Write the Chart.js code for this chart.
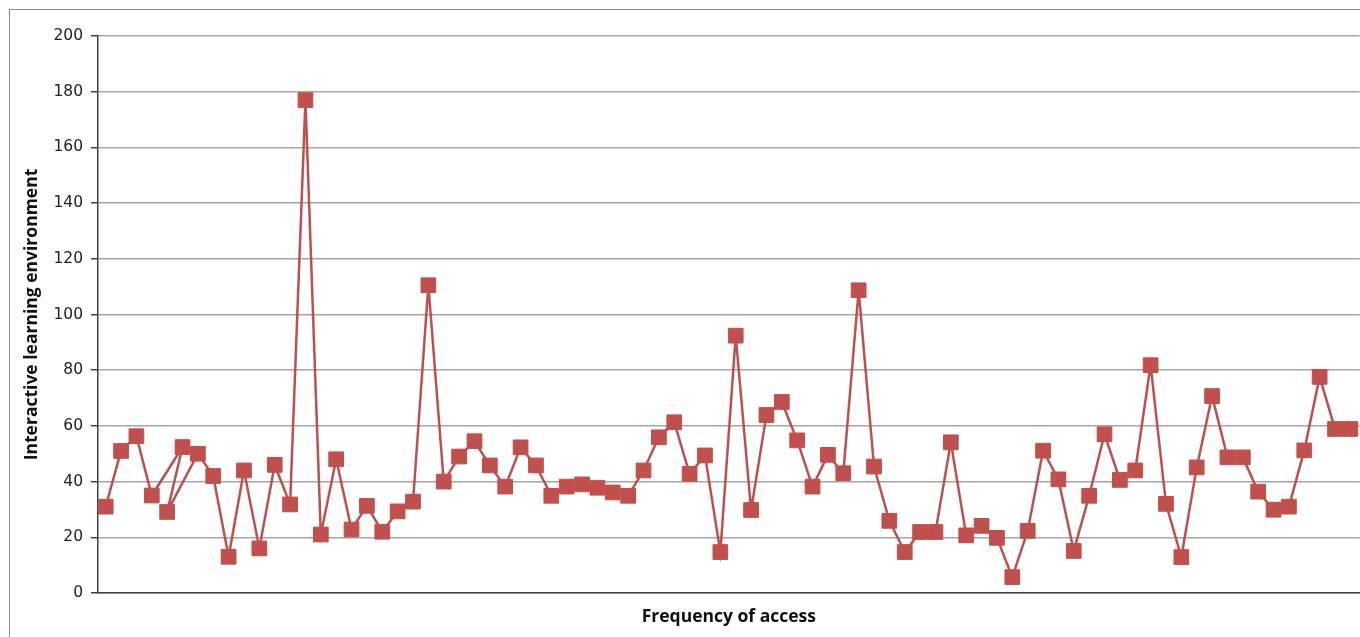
<!DOCTYPE html>
<html>
<head>
<meta charset="utf-8">
<script src="https://cdn.jsdelivr.net/npm/chart.js@4.4.1/dist/chart.umd.min.js"></script>
<style>
  html, body { margin: 0; padding: 0; background: #ffffff; overflow: hidden; }
  #frame { position: absolute; left: 9px; top: 9px; width: 1420px; height: 700px; border: 1px solid #8c8c8c; box-sizing: border-box; }
  #wrap { position: absolute; left: 0; top: 0; width: 1360px; height: 637px; overflow: hidden; }
</style>
</head>
<body>
<div id="frame"></div>
<div id="wrap"><canvas id="c" width="1371" height="637" style="width:1371px;height:637px"></canvas></div>
<script>
// Frequency of access (x) — points are joined in data order
const xValues = [1, 2, 3, 4, 6, 5, 7, 8, 9, 10, 11, 12, 13, 14, 15, 16, 17, 18, 19, 20,
  21, 22, 23, 24, 25, 26, 27, 28, 29, 30, 31, 32, 33, 34, 35, 36, 37, 38, 39, 40,
  41, 42, 43, 44, 45, 46, 47, 48, 49, 50, 51, 52, 53, 54, 55, 56, 57, 58, 59, 60,
  61, 62, 63, 64, 65, 66, 67, 68, 69, 70, 71, 72, 73, 74, 75, 76, 77, 78, 79, 80,
  81, 82];
// Interactive learning environment (y)
const yValues = [31, 51, 56.3, 35, 52.4, 29.1, 50, 42, 13, 44, 16, 46, 31.8, 177, 21, 48, 22.8, 31.3, 22, 29.3,
  32.8, 110.5, 40, 49, 54.5, 45.8, 38.2, 52.3, 45.8, 34.9, 38.2, 39, 37.8, 36.1, 34.9, 44, 55.9, 61.3, 42.8, 49.4,
  14.7, 92.4, 29.8, 63.9, 68.6, 54.8, 38.2, 49.6, 43, 108.7, 45.4, 25.9, 14.7, 21.9, 21.9, 54.1, 20.7, 24.1, 19.8, 5.7,
  22.3, 51.1, 40.8, 15.1, 34.9, 57, 40.6, 44, 81.8, 32, 12.9, 45.1, 70.7, 48.7, 48.7, 36.4, 29.9, 31, 51.2, 77.6,
  58.9, 58.9];
const yTickValues = [0, 20, 40, 60, 80, 100, 120, 140, 160, 180, 200];
const xTitle = 'Frequency of access';
const yTitle = 'Interactive learning environment';

const points = xValues.map((x, i) => ({ x: x, y: yValues[i] }));
const RED = '#C0504D';
const TITLE_FONT = 'Open Sans';
const TICK_FONT = 'DejaVu Sans';

new Chart(document.getElementById('c'), {
  type: 'scatter',
  data: {
    datasets: [{
      data: points,
      showLine: true,
      tension: 0,
      borderColor: RED,
      borderWidth: 2.5,
      pointStyle: 'rect',
      pointRadius: 10.4,
      pointBorderWidth: 1,
      pointBackgroundColor: RED,
      pointBorderColor: RED,
      clip: false
    }]
  },
  options: {
    responsive: false,
    animation: false,
    layout: { padding: { top: 36, right: 0, bottom: 0, left: 0 } },
    plugins: { legend: { display: false }, tooltip: { enabled: false } },
    scales: {
      x: {
        type: 'linear',
        min: 0.5,
        max: 82.6,
        ticks: { display: false },
        grid: { display: false },
        border: { color: '#404040', width: 1.5 },
        title: {
          display: true, text: xTitle, color: '#111',
          font: { family: TITLE_FONT, size: 17.5, weight: 'bold' },
          padding: { top: 0, bottom: 9.5 }
        },
        afterFit: s => { s.height = 44; }
      },
      y: {
        min: 0,
        max: 200,
        afterBuildTicks: s => { s.ticks = yTickValues.map(v => ({ value: v })); },
        ticks: { padding: 8, color: '#222', font: { family: TICK_FONT, size: 15.5 } },
        grid: { color: '#A6A6A6', lineWidth: 1.5, tickLength: 7, tickColor: '#404040', drawTicks: true },
        border: { color: '#404040', width: 1.5 },
        title: {
          display: true, text: yTitle, color: '#111',
          font: { family: TITLE_FONT, size: 17.5, weight: 'bold' },
          padding: { top: 22, bottom: 0 }
        },
        afterFit: s => { s.width = 98; }
      }
    }
  }
});
</script>
</body>
</html>
